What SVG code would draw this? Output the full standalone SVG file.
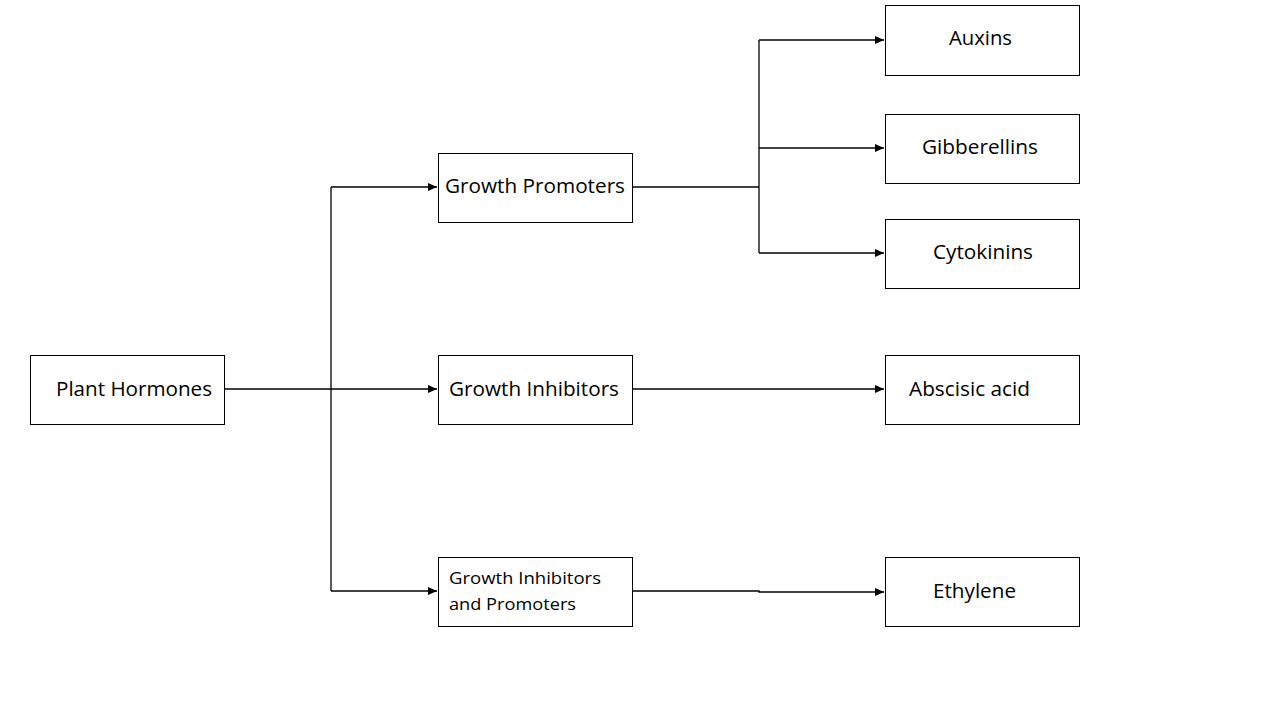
<svg xmlns="http://www.w3.org/2000/svg" width="1280" height="720" viewBox="0 0 1280 720">
<defs>
<marker id="arr" markerWidth="10" markerHeight="8" refX="9" refY="4" orient="auto" markerUnits="userSpaceOnUse">
<path d="M0,0 L9,4 L0,8 Z" fill="#000"/>
</marker>
<style>
.box{fill:#fff;stroke:#000;stroke-width:1}
.t{font-family:"Open Sans","Noto Sans",sans-serif;font-size:20px;fill:#000}
.s{font-family:"Open Sans","Noto Sans",sans-serif;font-size:17px;fill:#000}
.c{fill:none;stroke:#000;stroke-width:1.3}
</style>
</defs>
<rect width="1280" height="720" fill="#fff"/>
<g id="connectors">
<polyline class="c" points="224,389 331,389"/>
<polyline class="c" points="331,187 331,591"/>
<polyline class="c" points="331,187 437,187" marker-end="url(#arr)"/>
<polyline class="c" points="331,389 437,389" marker-end="url(#arr)"/>
<polyline class="c" points="331,591 437,591" marker-end="url(#arr)"/>
<polyline class="c" points="632,187 759,187"/>
<polyline class="c" points="759,40 759,253"/>
<polyline class="c" points="759,40 884,40" marker-end="url(#arr)"/>
<polyline class="c" points="759,148 884,148" marker-end="url(#arr)"/>
<polyline class="c" points="759,253 884,253" marker-end="url(#arr)"/>
<polyline class="c" points="632,389 884,389" marker-end="url(#arr)"/>
<polyline class="c" points="632,591 759,591 759,592 884,592" marker-end="url(#arr)"/>
</g>
<g id="plant-hormones"><rect class="box" x="30.5" y="355.5" width="194" height="69"/><text class="t" x="56" y="396" textLength="156" lengthAdjust="spacingAndGlyphs">Plant Hormones</text></g>
<g id="growth-promoters"><rect class="box" x="438.5" y="153.5" width="194" height="69"/><text class="t" x="445" y="193" textLength="180" lengthAdjust="spacingAndGlyphs">Growth Promoters</text></g>
<g id="growth-inhibitors"><rect class="box" x="438.5" y="355.5" width="194" height="69"/><text class="t" x="449" y="396" textLength="170" lengthAdjust="spacingAndGlyphs">Growth Inhibitors</text></g>
<g id="growth-inhibitors-promoters"><rect class="box" x="438.5" y="557.5" width="194" height="69"/><text class="s" x="449" y="584" textLength="152" lengthAdjust="spacingAndGlyphs">Growth Inhibitors</text><text class="s" x="449" y="610" textLength="127" lengthAdjust="spacingAndGlyphs">and Promoters</text></g>
<g id="auxins"><rect class="box" x="885.5" y="5.5" width="194" height="70"/><text class="t" x="949" y="45" textLength="63" lengthAdjust="spacingAndGlyphs">Auxins</text></g>
<g id="gibberellins"><rect class="box" x="885.5" y="114.5" width="194" height="69"/><text class="t" x="922" y="154" textLength="116" lengthAdjust="spacingAndGlyphs">Gibberellins</text></g>
<g id="cytokinins"><rect class="box" x="885.5" y="219.5" width="194" height="69"/><text class="t" x="933" y="259" textLength="100" lengthAdjust="spacingAndGlyphs">Cytokinins</text></g>
<g id="abscisic-acid"><rect class="box" x="885.5" y="355.5" width="194" height="69"/><text class="t" x="909" y="396" textLength="121" lengthAdjust="spacingAndGlyphs">Abscisic acid</text></g>
<g id="ethylene"><rect class="box" x="885.5" y="557.5" width="194" height="69"/><text class="t" x="933" y="598" textLength="83" lengthAdjust="spacingAndGlyphs">Ethylene</text></g>
</svg>
